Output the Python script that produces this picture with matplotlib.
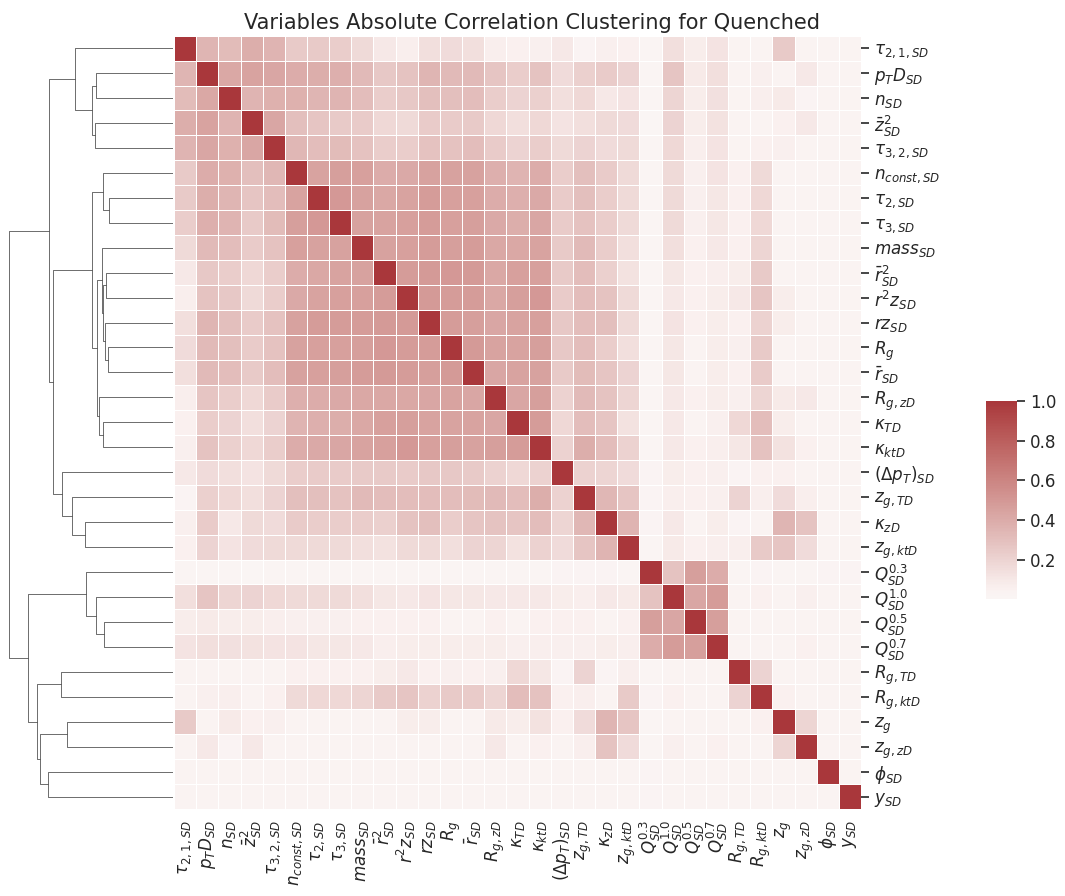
import numpy as np
import pandas as pd
import matplotlib
matplotlib.use("Agg")
import matplotlib.pyplot as plt
import seaborn as sns
from matplotlib.collections import LineCollection

# variables, already in clustered order
labels = [r'$\tau_{2,1,SD}$', r'$p_TD_{SD}$', r'$n_{SD}$', r'$\bar{z}^2_{SD}$', r'$\tau_{3,2,SD}$',
          r'$n_{const,SD}$', r'$\tau_{2,SD}$', r'$\tau_{3,SD}$', r'$mass_{SD}$', r'$\bar{r}^2_{SD}$',
          r'$r^2z_{SD}$', r'$rz_{SD}$', r'$R_g$', r'$\bar{r}_{SD}$', r'$R_{g,zD}$',
          r'$\kappa_{TD}$', r'$\kappa_{ktD}$', r'$(\Delta p_T)_{SD}$', r'$z_{g,TD}$', r'$\kappa_{zD}$',
          r'$z_{g,ktD}$', r'$Q^{0.3}_{SD}$', r'$Q^{1.0}_{SD}$', r'$Q^{0.5}_{SD}$', r'$Q^{0.7}_{SD}$',
          r'$R_{g,TD}$', r'$R_{g,ktD}$', r'$z_g$', r'$z_{g,zD}$', r'$\phi_{SD}$', r'$y_{SD}$']

# |corr| upper triangle : row i -> columns i+1 .. 30
upper = [
    [0.35, 0.32, 0.39, 0.36, 0.25, 0.25, 0.23, 0.17, 0.10, 0.07, 0.15, 0.16, 0.15, 0.07, 0.05,
     0.06, 0.10, 0.03, 0.06, 0.05, 0.02, 0.15, 0.08, 0.12, 0.04, 0.04, 0.25, 0.04, 0.04, 0.04],
    [0.42, 0.44, 0.43, 0.40, 0.39, 0.38, 0.33, 0.26, 0.28, 0.35, 0.33, 0.33, 0.27, 0.23,
     0.28, 0.16, 0.22, 0.24, 0.20, 0.02, 0.27, 0.09, 0.15, 0.04, 0.06, 0.04, 0.10, 0.04, 0.04],
    [0.36, 0.37, 0.37, 0.35, 0.36, 0.31, 0.23, 0.26, 0.30, 0.30, 0.31, 0.23, 0.20,
     0.22, 0.15, 0.18, 0.10, 0.12, 0.02, 0.19, 0.08, 0.14, 0.04, 0.07, 0.09, 0.03, 0.04, 0.04],
    [0.43, 0.30, 0.27, 0.25, 0.24, 0.18, 0.17, 0.24, 0.24, 0.25, 0.18, 0.15,
     0.18, 0.12, 0.15, 0.17, 0.16, 0.003, 0.20, 0.08, 0.13, 0.04, 0.04, 0.05, 0.10, 0.04, 0.04],
    [0.34, 0.31, 0.32, 0.29, 0.23, 0.23, 0.29, 0.29, 0.31, 0.24, 0.20,
     0.23, 0.17, 0.20, 0.16, 0.17, 0.02, 0.18, 0.07, 0.12, 0.04, 0.05, 0.06, 0.04, 0.04, 0.04],
    [0.44, 0.47, 0.46, 0.40, 0.41, 0.45, 0.45, 0.45, 0.38, 0.36,
     0.40, 0.23, 0.30, 0.24, 0.17, 0.02, 0.17, 0.06, 0.12, 0.05, 0.17, 0.04, 0.04, 0.04, 0.04],
    [0.50, 0.45, 0.42, 0.44, 0.48, 0.46, 0.46, 0.40, 0.38,
     0.41, 0.24, 0.30, 0.23, 0.17, 0.02, 0.17, 0.06, 0.11, 0.05, 0.18, 0.04, 0.04, 0.04, 0.04],
    [0.45, 0.44, 0.46, 0.48, 0.46, 0.47, 0.41, 0.39,
     0.43, 0.24, 0.29, 0.23, 0.17, 0.02, 0.17, 0.06, 0.11, 0.05, 0.18, 0.04, 0.04, 0.04, 0.04],
    [0.45, 0.46, 0.48, 0.47, 0.48, 0.42, 0.42,
     0.44, 0.25, 0.33, 0.23, 0.15, 0.02, 0.15, 0.05, 0.10, 0.05, 0.19, 0.04, 0.04, 0.04, 0.04],
    [0.48, 0.49, 0.50, 0.49, 0.42, 0.46,
     0.46, 0.25, 0.31, 0.22, 0.13, 0.02, 0.11, 0.05, 0.07, 0.08, 0.25, 0.04, 0.04, 0.04, 0.04],
    [0.49, 0.48, 0.48, 0.42, 0.47,
     0.50, 0.24, 0.31, 0.28, 0.17, 0.02, 0.10, 0.05, 0.08, 0.10, 0.27, 0.08, 0.04, 0.04, 0.04],
    [0.48, 0.47, 0.43, 0.44,
     0.46, 0.26, 0.31, 0.30, 0.17, 0.02, 0.12, 0.05, 0.08, 0.05, 0.21, 0.08, 0.04, 0.04, 0.04],
    [0.49, 0.44, 0.44,
     0.47, 0.26, 0.31, 0.23, 0.15, 0.02, 0.11, 0.04, 0.08, 0.06, 0.25, 0.04, 0.04, 0.04, 0.04],
    [0.43, 0.44,
     0.45, 0.25, 0.32, 0.27, 0.20, 0.02, 0.11, 0.04, 0.08, 0.05, 0.24, 0.04, 0.04, 0.04, 0.04],
    [0.43,
     0.47, 0.21, 0.33, 0.28, 0.19, 0.02, 0.10, 0.05, 0.08, 0.06, 0.19, 0.09, 0.10, 0.04, 0.04],
    [0.48, 0.18, 0.31, 0.27, 0.13, 0.02, 0.10, 0.04, 0.06, 0.18, 0.31, 0.08, 0.04, 0.04, 0.04],
    [0.21, 0.39, 0.31, 0.21, 0.02, 0.10, 0.05, 0.07, 0.11, 0.29, 0.13, 0.05, 0.04, 0.04],
    [0.21, 0.19, 0.16, 0.03, 0.08, 0.05, 0.06, 0.03, 0.05, 0.05, 0.04, 0.04, 0.04],
    [0.34, 0.27, 0.03, 0.07, 0.05, 0.06, 0.20, 0.07, 0.16, 0.07, 0.04, 0.04],
    [0.36, 0.03, 0.10, 0.04, 0.08, 0.03, 0.04, 0.35, 0.28, 0.04, 0.04],
    [0.02, 0.09, 0.05, 0.07, 0.07, 0.25, 0.27, 0.16, 0.04, 0.04],
    [0.28, 0.47, 0.40, 0.02, 0.03, 0.02, 0.02, 0.03, 0.03],
    [0.43, 0.48, 0.04, 0.05, 0.04, 0.06, 0.04, 0.04],
    [0.47, 0.04, 0.04, 0.04, 0.04, 0.04, 0.04],
    [0.04, 0.04, 0.04, 0.05, 0.04, 0.04],
    [0.20, 0.04, 0.04, 0.04, 0.04],
    [0.05, 0.04, 0.04, 0.04],
    [0.19, 0.04, 0.04],
    [0.04, 0.04],
    [0.04],
]

# row linkage (leaf ids = positions above, new nodes numbered 31, 32, ...)
merges = [(1, 2, 0.77), (3, 4, 0.78), (31, 32, 0.81), (0, 33, 0.98),
          (6, 7, 0.64), (5, 35, 0.70), (9, 10, 0.673), (12, 13, 0.647),
          (11, 38, 0.68), (37, 39, 0.697), (8, 40, 0.713), (15, 16, 0.697),
          (14, 42, 0.743), (41, 43, 0.757), (36, 44, 0.807), (19, 20, 0.883),
          (18, 46, 1.007), (17, 47, 1.107), (45, 48, 1.20), (34, 49, 1.243),
          (23, 24, 0.687), (22, 51, 0.767), (21, 52, 0.87), (25, 26, 1.12),
          (27, 28, 1.063), (29, 30, 1.247), (55, 56, 1.327), (54, 57, 1.357),
          (53, 58, 1.453), (50, 59, 1.64)]

n = len(labels)
corr = np.eye(n)
for i, row in enumerate(upper):
    corr[i, i + 1:] = row
    corr[i + 1:, i] = row
df = pd.DataFrame(corr, index=labels, columns=labels)

sns.set_theme(style="white", font_scale=1.1)

fig = plt.figure(figsize=(10.65, 8.96), dpi=100)
ax_row = fig.add_axes([0.001, 0.0971, 0.161, 0.8631])
ax_hm = fig.add_axes([0.1634, 0.0971, 0.6451, 0.8631])
ax_cb = fig.add_axes([0.9258, 0.3315, 0.0291, 0.221])

sns.heatmap(df, ax=ax_hm, cbar_ax=ax_cb, cmap="vlag", center=0,
            linewidths=0.5, linecolor="white",
            xticklabels=True, yticklabels=True)
ax_hm.yaxis.set_ticks_position("right")
ax_hm.tick_params(axis="y", rotation=0, length=6, width=1.2, color=".15")
ax_hm.tick_params(axis="x", rotation=90, length=0, pad=8)
ax_cb.tick_params(length=6, width=1.2, color=".15")

# dendrogram
ypos = {i: i + 0.5 for i in range(n)}
hgt = {i: 0.0 for i in range(n)}
segs = []
for k, (a, b, h) in enumerate(merges):
    segs.append([(hgt[a], ypos[a]), (h, ypos[a]), (h, ypos[b]), (hgt[b], ypos[b])])
    ypos[n + k] = (ypos[a] + ypos[b]) / 2
    hgt[n + k] = h
ax_row.add_collection(LineCollection(segs, linewidths=0.5, colors=[(.2, .2, .2)]))
ax_row.set_xlim(max(hgt.values()) * 1.05, 0)
ax_row.set_ylim(n, 0)
ax_row.axis("off")

fig.suptitle("Variables Absolute Correlation Clustering for Quenched", fontsize=15, y=0.986)

fig.savefig("out.png", dpi=100)
